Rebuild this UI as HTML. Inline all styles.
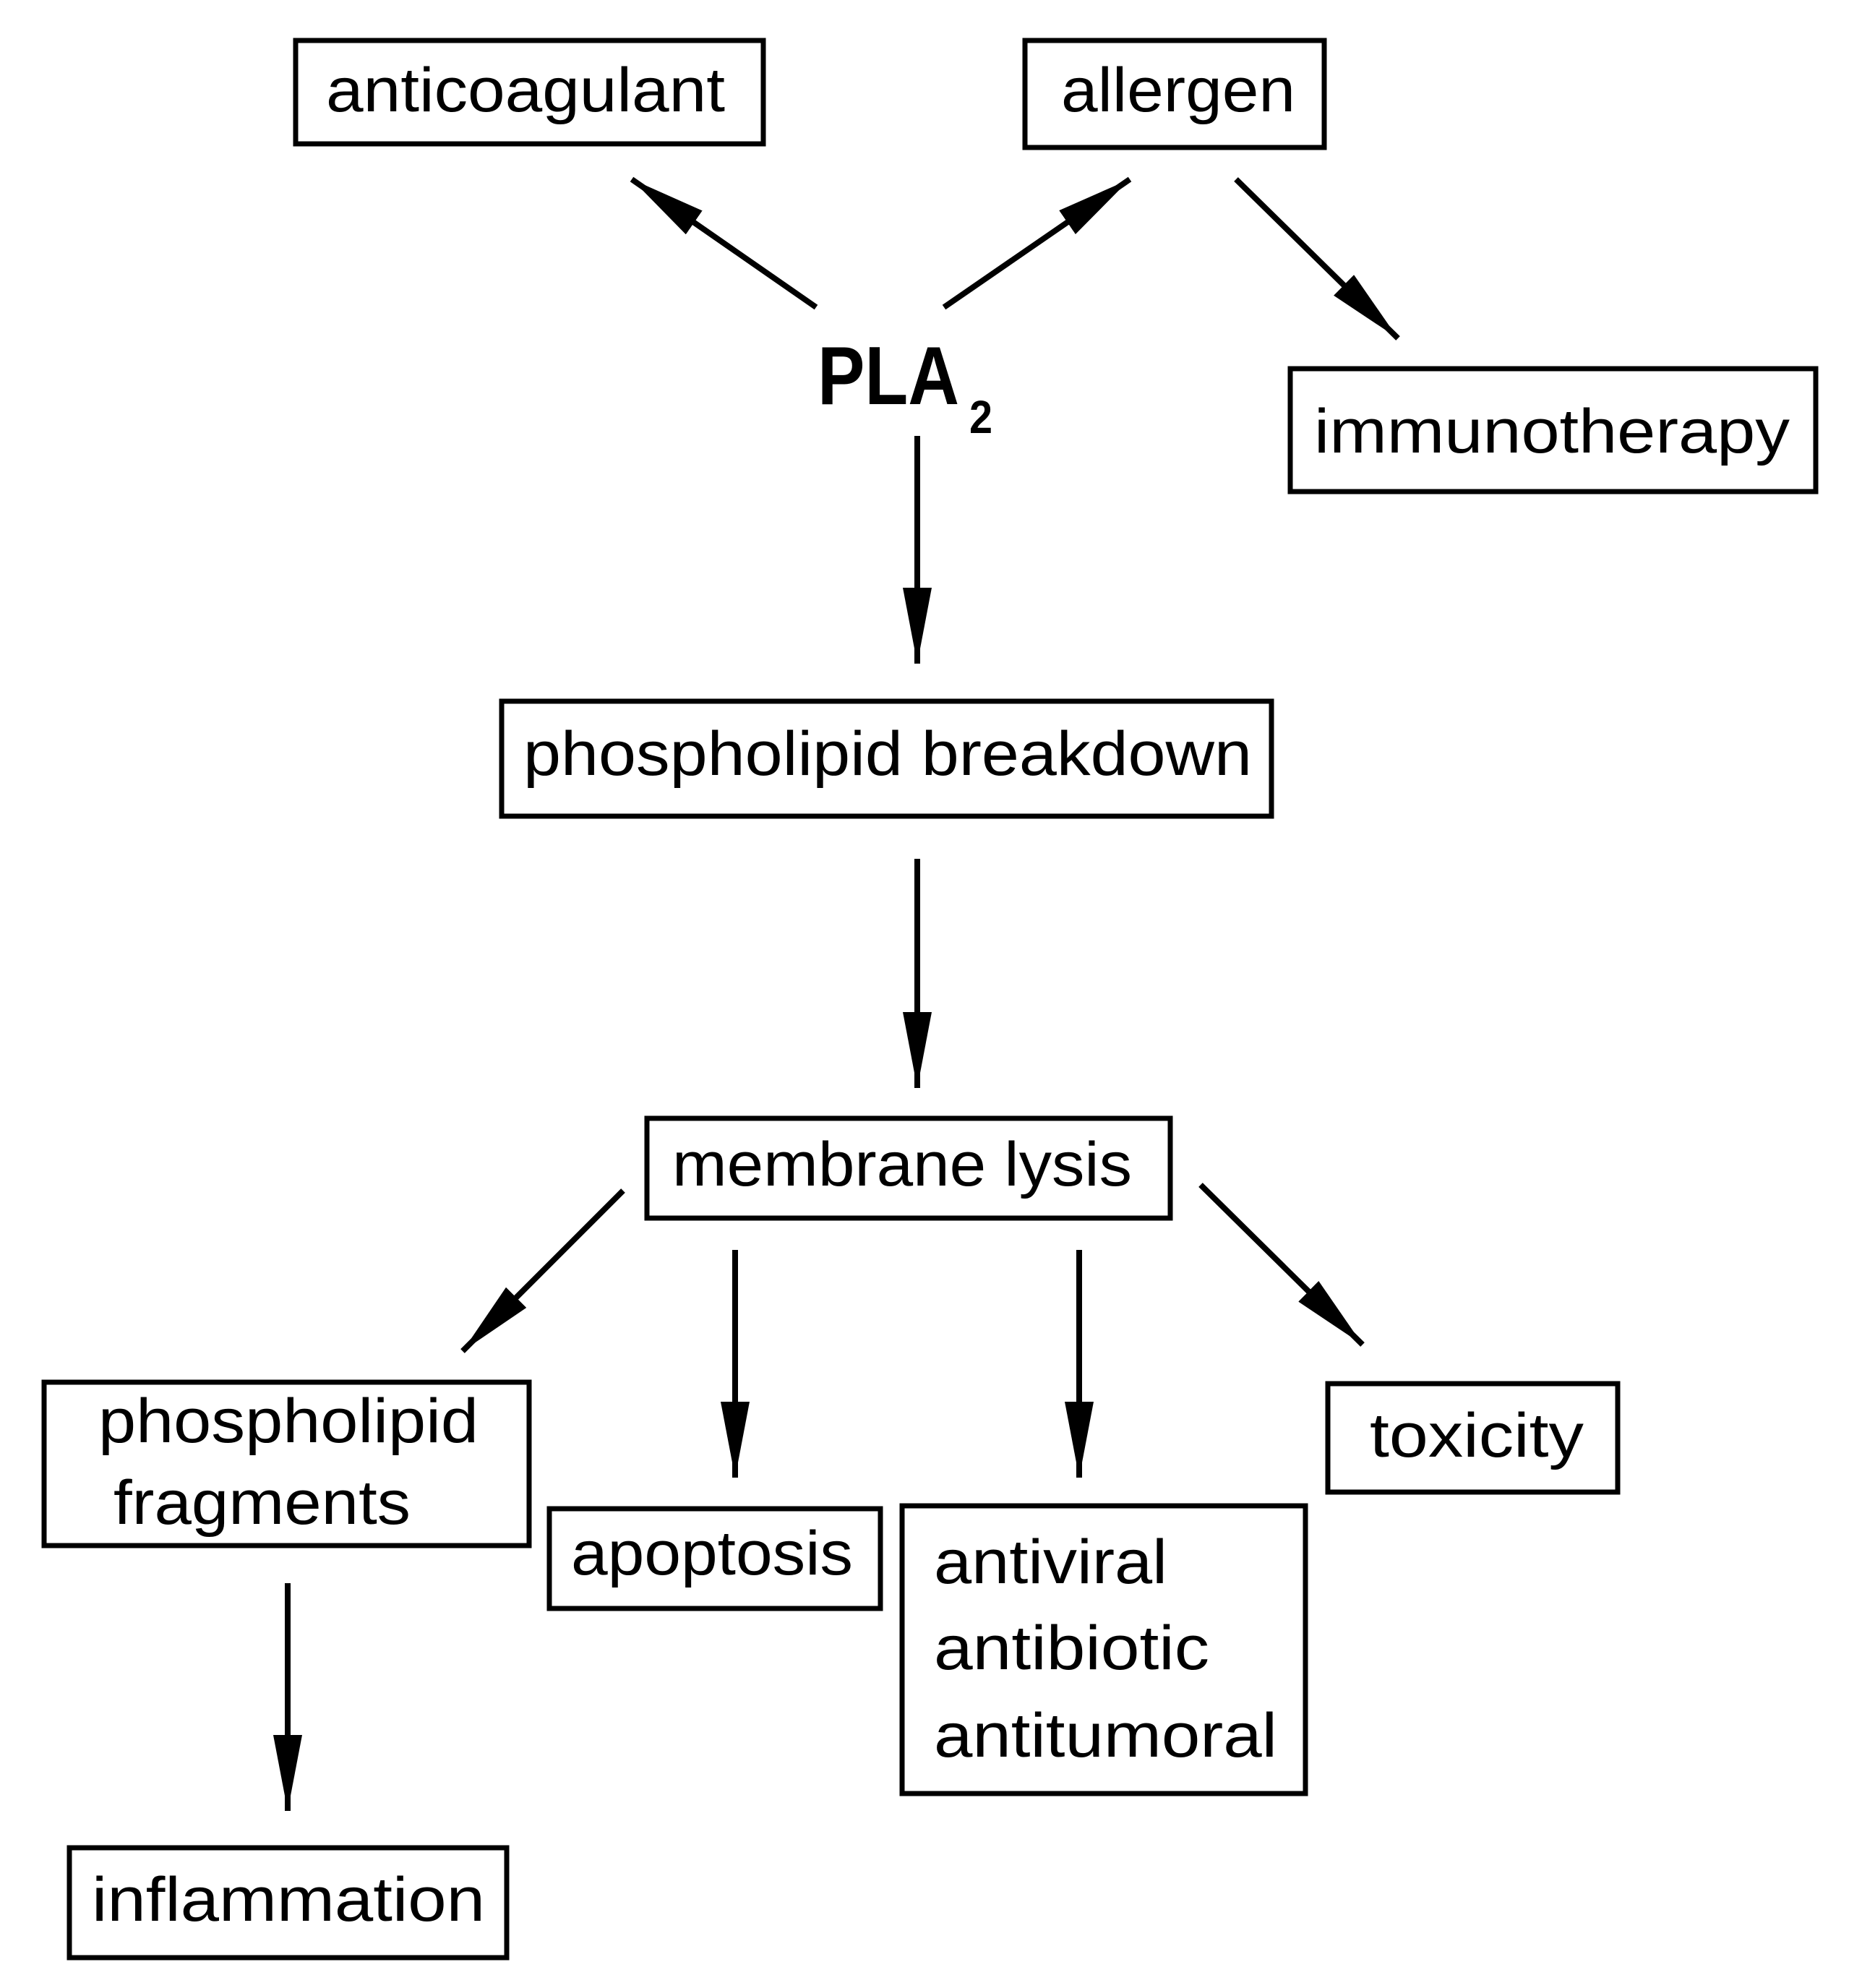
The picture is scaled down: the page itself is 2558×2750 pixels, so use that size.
<!DOCTYPE html>
<html><head><meta charset="utf-8"><style>html,body{margin:0;padding:0;background:#fff}svg{display:block}</style></head><body>
<svg width="2558" height="2750" viewBox="0 0 2558 2750" xmlns="http://www.w3.org/2000/svg">
<defs><marker id="a" markerUnits="userSpaceOnUse" markerWidth="110" markerHeight="40" refX="105" refY="20" orient="auto"><path d="M0,0 L105,20 L0,40 Z" fill="#000"/></marker></defs>
<g transform="translate(5,5)">
<g fill="none" stroke="#000" stroke-width="7">
<rect x="404" y="51" width="647" height="143"/>
<rect x="1413" y="51" width="414" height="148"/>
<rect x="1780" y="505" width="727" height="170"/>
<rect x="689" y="965" width="1065" height="159"/>
<rect x="890" y="1542" width="724" height="138"/>
<rect x="56" y="1907" width="671" height="226"/>
<rect x="755" y="2082" width="458" height="138"/>
<rect x="1243" y="2078" width="558" height="398"/>
<rect x="1832" y="1909" width="401" height="150"/>
<rect x="91" y="2551" width="605" height="152"/>
</g>
<g stroke="#000" stroke-width="8" marker-end="url(#a)">
<line x1="1124" y1="420" x2="869" y2="243"/>
<line x1="1301" y1="420" x2="1558" y2="243"/>
<line x1="1705" y1="243" x2="1929" y2="463"/>
<line x1="1264" y1="598" x2="1264" y2="913"/>
<line x1="1264" y1="1183" x2="1264" y2="1500"/>
<line x1="857" y1="1642" x2="635" y2="1864"/>
<line x1="1012" y1="1724" x2="1012" y2="2039"/>
<line x1="1488" y1="1724" x2="1488" y2="2039"/>
<line x1="1656" y1="1634" x2="1880" y2="1855"/>
<line x1="393" y1="2185" x2="393" y2="2500"/>
</g>
<g font-family="Liberation Sans, sans-serif" font-size="86" fill="#000">
<text x="446" y="149" textLength="552" lengthAdjust="spacingAndGlyphs">anticoagulant</text>
<text x="1463" y="149" textLength="324" lengthAdjust="spacingAndGlyphs">allergen</text>
<text x="1813" y="621" textLength="658" lengthAdjust="spacingAndGlyphs">immunotherapy</text>
<text x="719" y="1067" textLength="1008" lengthAdjust="spacingAndGlyphs">phospholipid breakdown</text>
<text x="925" y="1635" textLength="636" lengthAdjust="spacingAndGlyphs">membrane lysis</text>
<text x="131" y="1990" textLength="526" lengthAdjust="spacingAndGlyphs">phospholipid</text>
<text x="152" y="2103" textLength="411" lengthAdjust="spacingAndGlyphs">fragments</text>
<text x="785" y="2173" textLength="390" lengthAdjust="spacingAndGlyphs">apoptosis</text>
<text x="1890" y="2010" textLength="296" lengthAdjust="spacingAndGlyphs">toxicity</text>
<text x="1287" y="2185" textLength="323" lengthAdjust="spacingAndGlyphs">antiviral</text>
<text x="1287" y="2304" textLength="381" lengthAdjust="spacingAndGlyphs">antibiotic</text>
<text x="1287" y="2425" textLength="475" lengthAdjust="spacingAndGlyphs">antitumoral</text>
<text x="122" y="2652" textLength="544" lengthAdjust="spacingAndGlyphs">inflammation</text>
<text transform="translate(1126,554) scale(0.86,1)" font-size="114" font-weight="bold">PLA</text>
<text transform="translate(1336,594) scale(0.9,1)" font-size="64" font-weight="bold">2</text>
</g>
</g>
</svg>
</body></html>
